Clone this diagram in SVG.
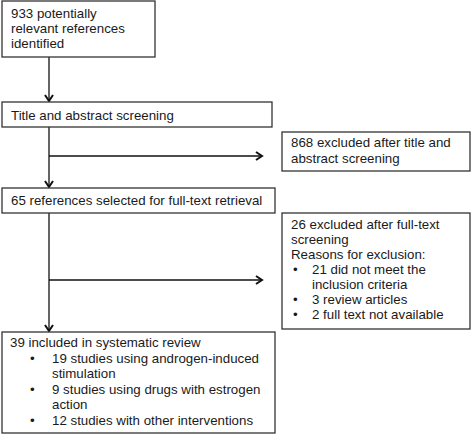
<svg xmlns="http://www.w3.org/2000/svg" width="472" height="435" viewBox="0 0 472 435">
<defs>
<style>
.box{fill:#fff;stroke:#333;stroke-width:1.3}
text{font-family:"Liberation Sans",Arial,sans-serif;font-size:13.3px;fill:#1a1a1a}
.ln{stroke:#111;stroke-width:1.3;fill:none}
</style>
<marker id="ah" markerWidth="10" markerHeight="10" refX="7" refY="5" orient="auto" markerUnits="userSpaceOnUse">
<polyline points="1,1 7,5 1,9" fill="none" stroke="#111" stroke-width="2"/>
</marker>
</defs>
<rect width="472" height="435" fill="#fff"/>
<g id="connectors">
<line class="ln" x1="49" y1="57" x2="49" y2="101" marker-end="url(#ah)"/>
<line class="ln" x1="49" y1="127" x2="49" y2="187" marker-end="url(#ah)"/>
<line class="ln" x1="49" y1="156" x2="262" y2="156" marker-end="url(#ah)"/>
<line class="ln" x1="49" y1="213" x2="49" y2="331" marker-end="url(#ah)"/>
<line class="ln" x1="49" y1="280" x2="262" y2="280" marker-end="url(#ah)"/>
</g>
<g id="n1">
<rect class="box" x="2" y="1" width="153" height="56"/>
<text x="11" y="18">933 potentially</text>
<text x="11" y="33">relevant references</text>
<text x="11" y="48">identified</text>
</g>
<g id="n2">
<rect class="box" x="2" y="102" width="270" height="25"/>
<text x="11" y="120">Title and abstract screening</text>
</g>
<g id="n3">
<rect class="box" x="282" y="132" width="188" height="39"/>
<text x="291" y="147">868 excluded after title and</text>
<text x="291" y="163">abstract screening</text>
</g>
<g id="n4">
<rect class="box" x="2" y="188" width="273" height="25"/>
<text x="11" y="205">65 references selected for full-text retrieval</text>
</g>
<g id="n5">
<rect class="box" x="282" y="213" width="188" height="116"/>
<text x="291" y="229">26 excluded after full-text</text>
<text x="291" y="244">screening</text>
<text x="291" y="259">Reasons for exclusion:</text>
<text x="293" y="274">•</text><text x="312" y="274">21 did not meet the</text>
<text x="312" y="289">inclusion criteria</text>
<text x="293" y="304">•</text><text x="312" y="304">3 review articles</text>
<text x="293" y="319">•</text><text x="312" y="319">2 full text not available</text>
</g>
<g id="n6">
<rect class="box" x="2" y="332" width="273" height="101"/>
<text x="10" y="347">39 included in systematic review</text>
<text x="30" y="363">•</text><text x="52" y="363">19 studies using androgen-induced</text>
<text x="52" y="378">stimulation</text>
<text x="30" y="394">•</text><text x="52" y="394">9 studies using drugs with estrogen</text>
<text x="52" y="409">action</text>
<text x="30" y="425">•</text><text x="52" y="425">12 studies with other interventions</text>
</g>
</svg>
